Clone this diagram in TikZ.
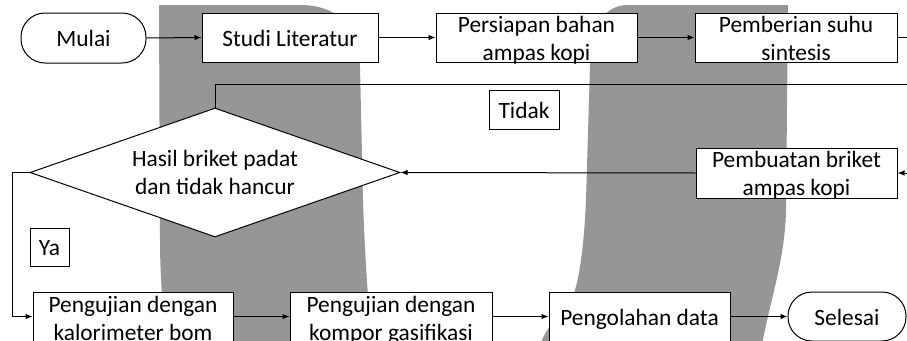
\documentclass[tikz,border=0pt]{standalone}
\usepackage{fontspec}
\setmainfont{Carlito}
\usetikzlibrary{arrows.meta,shapes.geometric}
\definecolor{bggray}{RGB}{150,150,151}
\begin{document}
\begin{tikzpicture}[x=1pt,y=-1pt,
  box/.style={draw=black, fill=white, line width=1pt, inner sep=0pt, align=center,
    font=\fontsize{23.4}{28}\selectfont},
  one/.style={text height=17pt, text depth=0pt},
  two/.style={text height={20pt+#1}, text depth={20pt-#1}},
  term/.style={box, one, rounded corners=24pt},
  lbl/.style={box, one},
  dec/.style={box, diamond, aspect=2.87},
  conn/.style={line width=1pt},
  arr/.style={conn, -{Latex[length=7pt,width=5.5pt]}}
]
\useasboundingbox (0,0) rectangle (907,340);
\clip (0,0) rectangle (907,340);
\fill[white] (0,0) rectangle (907,340);
% background shapes
\fill[bggray] (159,5) -- (300,5) .. controls (340,5) and (360,30) .. (360,67)
  -- (363,200) .. controls (365,260) and (368,300) .. (372,345)
  -- (166,345) .. controls (162,300) and (160,270) .. (160,240) -- cycle;
\fill[bggray] (628,5) .. controls (602,5) and (591,30) .. (590,65)
  -- (586,200) .. controls (584,250) and (578,285) .. (573,295)
  .. controls (560,312) and (545,330) .. (540,345)
  -- (762,345) .. controls (770,300) and (785,260) .. (786,210)
  -- (788,5) -- cycle;
% nodes
\node[term, minimum width=125pt, minimum height=50pt] (mulai) at (83.5,38) {Mulai};
\node[box, one, minimum width=176pt, minimum height=49pt] (studi) at (290,37.5) {Studi Literatur};
\node[box, two=26pt, minimum width=201pt, minimum height=49pt] (persiapan) at (536.5,37.5) {Persiapan bahan\\ampas kopi};
\node[box, two=26pt, minimum width=202pt, minimum height=49pt] (pemberian) at (796,37.5) {Pemberian suhu\\sintesis};
\node[box, two=24pt, minimum width=201pt, minimum height=50pt] (pembuatan) at (796.5,173) {Pembuatan briket\\ampas kopi};
\node[dec, two=24.5pt, minimum width=370pt, minimum height=129pt] (hasil) at (215,172.5) {Hasil briket padat\\dan tidak hancur};
\node[lbl, minimum width=70pt, minimum height=39pt] (tidak) at (524,109.5) {Tidak};
\node[lbl, minimum width=39pt, minimum height=38pt] (ya) at (49.5,247) {Ya};
\node[box, two=27.5pt, minimum width=200pt, minimum height=49pt] (kalori) at (133,316.5) {Pengujian dengan\\kalorimeter bom};
\node[box, two=27.5pt, minimum width=202pt, minimum height=49pt] (kompor) at (391,316.5) {Pengujian dengan\\kompor gasifikasi};
\node[box, one, minimum width=181pt, minimum height=49pt] (olah) at (639.5,316.5) {Pengolahan data};
\node[term, minimum width=118pt, minimum height=49pt] (selesai) at (847,316.5) {Selesai};
% free ends
\coordinate (offA) at (915,37.5);
\coordinate (offB) at (915,84);
\coordinate (offC) at (915,173);
\coordinate (bend) at (12,172.5);
% connectors
\draw[arr] (mulai.east) -- (studi.west);
\draw[arr] (studi.east) -- (persiapan.west);
\draw[arr] (persiapan.east) -- (pemberian.west);
\draw[conn] (pemberian.east) -- (offA);
\draw[conn] (offB) -| (hasil.north);
\draw[arr] (offC) -- (pembuatan.east);
\draw[arr] (pembuatan.west) -- (hasil.east);
\draw[arr] (hasil.west) -- (bend) |- (kalori.west);
\draw[arr] (kalori.east) -- (kompor.west);
\draw[arr] (kompor.east) -- (olah.west);
\draw[arr] (olah.east) -- (selesai.west);
\end{tikzpicture}
\end{document}
